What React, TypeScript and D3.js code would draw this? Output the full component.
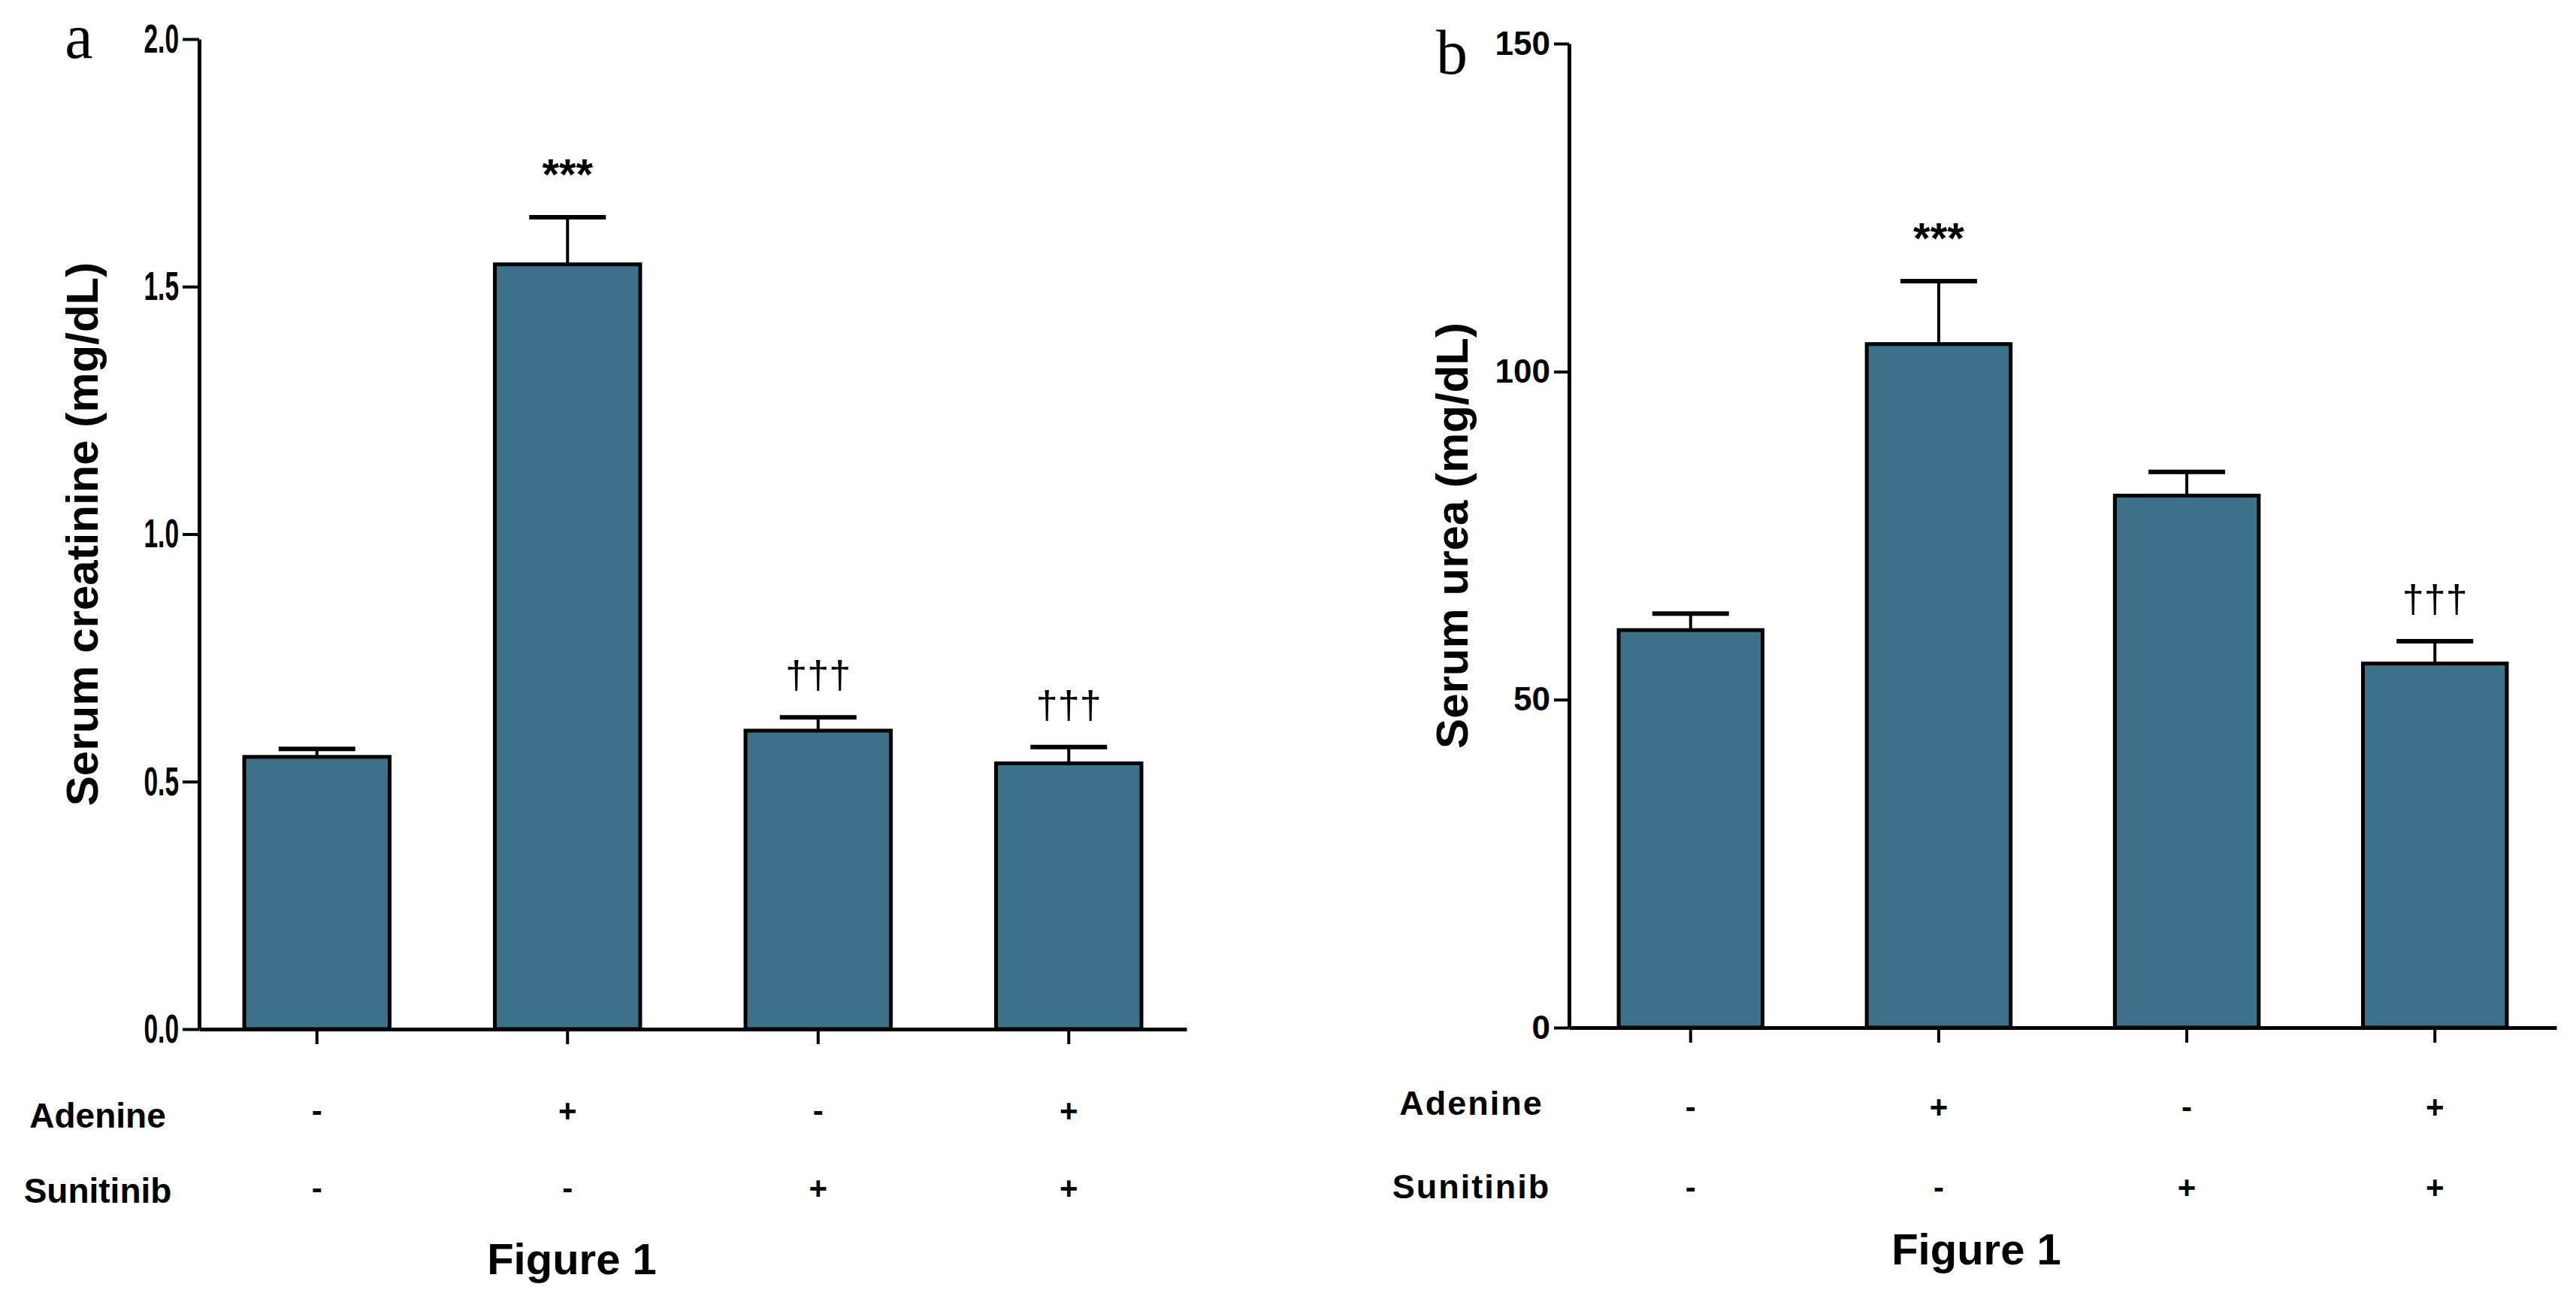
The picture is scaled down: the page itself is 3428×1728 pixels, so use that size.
import { useEffect, useRef } from "react";
import * as d3 from "d3";

// groups and treatment rows
const groups = ["control", "adenine", "sunitinib", "adenine+sunitinib"];
const adenineRow = ["-", "+", "-", "+"];
const sunitinibRow = ["-", "-", "+", "+"];

// panel a: serum creatinine
const creatMean = [0.55, 1.545, 0.603, 0.537];
const creatSem = [0.016, 0.095, 0.027, 0.033];
const creatMarks = ["", "***", "†††", "†††"];
const creatTicks = [0, 0.5, 1.0, 1.5, 2.0];

// panel b: serum urea
const ureaMean = [60.6, 104.2, 81.1, 55.5];
const ureaSem = [2.5, 9.6, 3.6, 3.4];
const ureaMarks = ["", "***", "", "†††"];
const ureaTicks = [0, 50, 100, 150];

const FILL = "#3d7089";
const SANS = "'Liberation Sans', Arial, sans-serif";
const SERIF = "'Liberation Serif', 'Times New Roman', serif";

function drawPanel(root, p) {
    const g = root.append("g");

    const x = d3.scaleBand()
        .domain(groups)
        .range([p.x0, p.x1])
        .paddingInner(0.42)
        .paddingOuter(p.po);

    const y = d3.scaleLinear()
        .domain(p.domain)
        .range([p.yBottom, p.yTop]);

    const cx = d => x(d) + x.bandwidth() / 2;

    // bars
    g.selectAll(".bar")
        .data(groups)
        .join("rect")
        .attr("class", "bar")
        .attr("x", d => x(d))
        .attr("y", (d, i) => y(p.means[i]))
        .attr("width", x.bandwidth())
        .attr("height", (d, i) => y(0) - y(p.means[i]))
        .attr("fill", FILL)
        .attr("stroke", "#000")
        .attr("stroke-width", 5);

    // error bars (upper only)
    g.selectAll(".stem")
        .data(groups)
        .join("line")
        .attr("x1", cx).attr("x2", cx)
        .attr("y1", (d, i) => y(p.means[i]))
        .attr("y2", (d, i) => y(p.means[i] + p.sems[i]))
        .attr("stroke", "#000")
        .attr("stroke-width", 4);

    g.selectAll(".cap")
        .data(groups)
        .join("line")
        .attr("x1", d => cx(d) - 51).attr("x2", d => cx(d) + 51)
        .attr("y1", (d, i) => y(p.means[i] + p.sems[i]))
        .attr("y2", (d, i) => y(p.means[i] + p.sems[i]))
        .attr("stroke", "#000")
        .attr("stroke-width", 6);

    // significance marks
    g.selectAll(".mark")
        .data(groups)
        .join("text")
        .attr("x", cx)
        .attr("y", (d, i) => y(p.means[i] + p.sems[i]) - (p.marks[i] === "***" ? 37 : 38))
        .attr("text-anchor", "middle")
        .style("font-family", SANS)
        .style("font-weight", (d, i) => (p.marks[i] === "***" ? "bold" : "normal"))
        .style("font-size", (d, i) => (p.marks[i] === "***" ? "58px" : "52px"))
        .text((d, i) => p.marks[i]);

    // y axis
    const yAxis = g.append("g")
        .attr("transform", `translate(${p.x0},0)`)
        .call(d3.axisLeft(y).tickValues(p.ticks).tickFormat(p.format)
            .tickSize(p.tickLen).tickSizeOuter(0).tickPadding(5));
    yAxis.select(".domain").attr("stroke-width", 5);
    yAxis.selectAll(".tick line").attr("stroke-width", 4);
    yAxis.selectAll("text")
        .attr("x", -(p.tickLen + 5) / p.tickScaleX)
        .attr("transform", `scale(${p.tickScaleX},1)`)
        .style("font-family", SANS)
        .style("font-weight", "bold")
        .style("font-size", `${p.tickFont}px`)
        .attr("fill", "#000");

    // x axis
    const xAxis = g.append("g")
        .attr("transform", `translate(0,${y(0)})`)
        .call(d3.axisBottom(x).tickSize(20).tickSizeOuter(0).tickFormat(() => ""));
    xAxis.select(".domain").attr("stroke-width", 5);
    xAxis.selectAll(".tick line").attr("stroke-width", 4);

    // y label
    g.append("text")
        .attr("transform", `translate(${p.yLabelX},${(p.yTop + p.yBottom) / 2}) rotate(-90)`)
        .attr("text-anchor", "middle")
        .style("font-family", SANS)
        .style("font-weight", "bold")
        .style("font-size", "60px")
        .text(p.yLabel);

    // panel letter
    g.append("text")
        .attr("x", p.letterX)
        .attr("y", p.letterY)
        .attr("text-anchor", "middle")
        .style("font-family", SERIF)
        .style("font-size", "84px")
        .text(p.letter);

    // treatment rows
    const rows = [
        { name: "Adenine", signs: adenineRow, labelY: p.rowY[0], signY: p.signY[0] },
        { name: "Sunitinib", signs: sunitinibRow, labelY: p.rowY[1], signY: p.signY[1] },
    ];
    rows.forEach(r => {
        g.append("text")
            .attr("x", p.rowLabelX)
            .attr("y", r.labelY)
            .attr("text-anchor", "middle")
            .style("font-family", SANS)
            .style("font-weight", "bold")
            .style("font-size", `${p.rowFont}px`)
            .style("letter-spacing", `${p.letterSpacing}px`)
            .text(r.name);
        g.selectAll(null)
            .data(groups)
            .join("text")
            .attr("x", cx)
            .attr("y", r.signY + 14)
            .attr("text-anchor", "middle")
            .style("font-family", SANS)
            .style("font-weight", "bold")
            .style("font-size", "42px")
            .text((d, i) => r.signs[i]);
    });

    // figure caption
    g.append("text")
        .attr("x", p.figX)
        .attr("y", p.figY)
        .attr("text-anchor", "middle")
        .style("font-family", SANS)
        .style("font-weight", "bold")
        .style("font-size", "58px")
        .text("Figure 1");
}

export default function App() {
    const svgRef = useRef(null);

    useEffect(() => {
        document.body.style.margin = "0";
        const svg = d3.select(svgRef.current);
        svg.selectAll("*").remove();

        drawPanel(svg, {
            x0: 265, x1: 1579, po: 0.18, yTop: 52, yBottom: 1369,
            domain: [0, 2], ticks: creatTicks, format: d3.format(".1f"),
            means: creatMean, sems: creatSem, marks: creatMarks,
            tickScaleX: 0.62, tickFont: 54, tickLen: 22,
            yLabel: "Serum creatinine (mg/dL)", yLabelX: 130,
            letter: "a", letterX: 105, letterY: 77,
            rowLabelX: 130, rowY: [1500, 1600], signY: [1478, 1581],
            rowFont: 46, letterSpacing: 0,
            figX: 761, figY: 1695,
        });

        drawPanel(svg, {
            x0: 2088, x1: 3402, po: 0.2, yTop: 58, yBottom: 1367,
            domain: [0, 150], ticks: ureaTicks, format: d3.format("d"),
            means: ureaMean, sems: ureaSem, marks: ureaMarks,
            tickScaleX: 1, tickFont: 44, tickLen: 20,
            yLabel: "Serum urea (mg/dL)", yLabelX: 1953,
            letter: "b", letterX: 1932, letterY: 98,
            rowLabelX: 1958, rowY: [1483, 1594], signY: [1473, 1580],
            rowFont: 45, letterSpacing: 2,
            figX: 2630, figY: 1682,
        });
    }, []);

    return (
        <svg
            ref={svgRef}
            width={3428}
            height={1728}
            style={{ position: "absolute", left: 0, top: 0, background: "#fff" }}
        />
    );
}
